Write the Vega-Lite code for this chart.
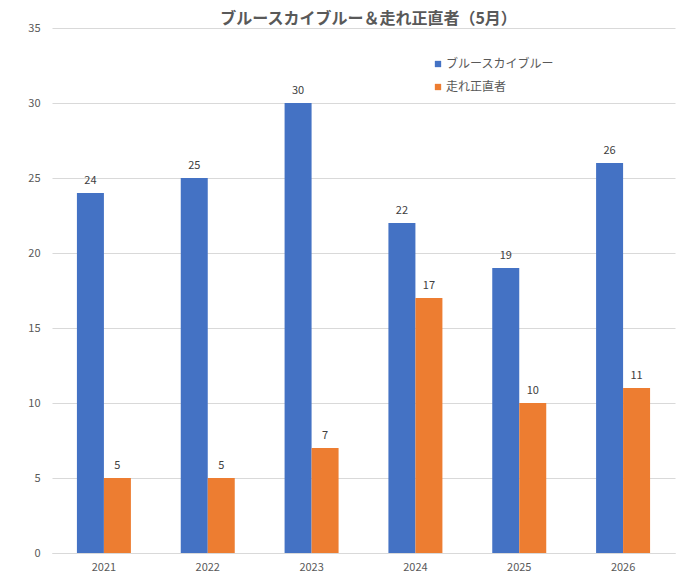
{
  "$schema": "https://vega.github.io/schema/vega-lite/v6.json",
  "autosize": {"type": "none"},
  "padding": {"left": 52, "top": 28, "right": 5, "bottom": 30},
  "width": 623,
  "height": 525,
  "background": "white",
  "view": {"stroke": null},
  "title": {
    "text": "ブルースカイブルー＆走れ正直者（5月）",
    "font": "Noto Sans CJK JP",
    "fontSize": 16,
    "fontWeight": "bold",
    "color": "#595959",
    "anchor": "middle",
    "frame": "group",
    "offset": 5,
    "dy": 10,
    "dx": 5
  },
  "data": {
    "values": [
      {"year": "2021", "series": "ブルースカイブルー", "value": 24},
      {"year": "2021", "series": "走れ正直者", "value": 5},
      {"year": "2022", "series": "ブルースカイブルー", "value": 25},
      {"year": "2022", "series": "走れ正直者", "value": 5},
      {"year": "2023", "series": "ブルースカイブルー", "value": 30},
      {"year": "2023", "series": "走れ正直者", "value": 7},
      {"year": "2024", "series": "ブルースカイブルー", "value": 22},
      {"year": "2024", "series": "走れ正直者", "value": 17},
      {"year": "2025", "series": "ブルースカイブルー", "value": 19},
      {"year": "2025", "series": "走れ正直者", "value": 10},
      {"year": "2026", "series": "ブルースカイブルー", "value": 26},
      {"year": "2026", "series": "走れ正直者", "value": 11}
    ]
  },
  "encoding": {
    "x": {
      "field": "year", "type": "nominal",
      "scale": {"paddingInner": 0.48, "paddingOuter": 0.24},
      "axis": {
        "title": null, "labelAngle": 0, "labelFont": "Noto Sans CJK JP", "labelFontSize": 11,
        "labelColor": "#595959", "domainColor": "#d9d9d9", "ticks": false, "labelPadding": 8, "grid": false
      }
    },
    "xOffset": {"field": "series", "type": "nominal", "sort": ["ブルースカイブルー", "走れ正直者"], "scale": {"paddingInner": 0, "paddingOuter": 0}},
    "y": {
      "field": "value", "type": "quantitative",
      "scale": {"domain": [0, 35]},
      "axis": {
        "title": null, "values": [0, 5, 10, 15, 20, 25, 30, 35], "labelFont": "Noto Sans CJK JP", "labelFontSize": 11,
        "labelColor": "#595959", "domain": false, "ticks": false, "gridColor": "#d9d9d9", "labelPadding": 12
      }
    }
  },
  "layer": [
    {
      "mark": {"type": "bar"},
      "encoding": {
        "color": {
          "field": "series", "type": "nominal", "sort": ["ブルースカイブルー", "走れ正直者"],
          "scale": {"domain": ["ブルースカイブルー", "走れ正直者"], "range": ["#4472C4", "#ED7D31"]},
          "legend": {
            "title": null, "orient": "none", "legendX": 380, "legendY": 30,
            "symbolType": "square", "symbolSize": 40, "labelFont": "Noto Sans CJK JP", "labelFontSize": 12,
            "labelColor": "#595959", "rowPadding": 11, "symbolOffset": 0, "labelOffset": 2
          }
        }
      }
    },
    {
      "mark": {"type": "text", "baseline": "bottom", "dy": -7, "font": "Noto Sans CJK JP", "fontSize": 11, "color": "#404040"},
      "encoding": {
        "text": {"field": "value", "type": "quantitative"}
      }
    }
  ]
}
